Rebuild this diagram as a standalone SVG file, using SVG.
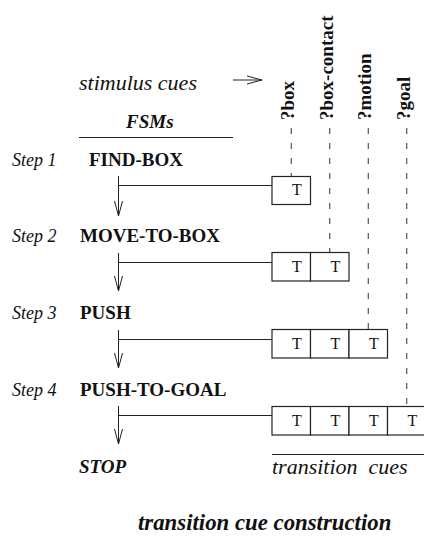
<svg xmlns="http://www.w3.org/2000/svg" width="424" height="542" viewBox="0 0 424 542">
<defs>
<style>
text{font-family:'Liberation Serif','Times New Roman',Times,serif}
.it{font-style:italic;fill:#111}
.bd{font-weight:bold;fill:#111}
.bi{font-weight:bold;font-style:italic;fill:#111}
.t{font-size:16px;fill:#111;text-anchor:middle}
.cell{fill:#fff;stroke:#222;stroke-width:1.2}
.ln{stroke:#222;stroke-width:1;fill:none}
.dash{stroke:#333;stroke-width:1;fill:none;stroke-dasharray:6 9}
</style>
<marker id="ah" markerUnits="userSpaceOnUse" viewBox="-16 -6 18 12" markerWidth="18" markerHeight="12" refX="0" refY="0" orient="auto">
<path d="M-15,-4 L0,0 L-15,4" fill="none" stroke="#222" stroke-width="1"/>
</marker>
</defs>
<rect width="424" height="542" fill="#fff"/>

<g id="header">
<text class="it" x="79" y="90" font-size="22">stimulus cues</text>
<text class="bi" x="126" y="128" font-size="19">FSMs</text>
<line class="ln" x1="79" y1="137.5" x2="233" y2="137.5"/>
</g>

<g id="cue-labels">
<text class="bd" font-size="19" transform="translate(294,120) rotate(-90)">?box</text>
<text class="bd" font-size="19" transform="translate(332.5,120) rotate(-90)">?box-contact</text>
<text class="bd" font-size="19" transform="translate(371,120) rotate(-90)">?motion</text>
<text class="bd" font-size="19" transform="translate(409.5,120) rotate(-90)">?goal</text>
</g>

<g id="step1">
<text class="it" x="12" y="166" font-size="18">Step 1</text>
<text class="bd" x="89" y="166" font-size="19">FIND-BOX</text>
<rect class="cell" x="272" y="176.5" width="38.5" height="28"/>
<text class="t" x="297" y="195">T</text>
</g>

<g id="step2">
<text class="it" x="12" y="242" font-size="18">Step 2</text>
<text class="bd" x="80" y="242" font-size="19">MOVE-TO-BOX</text>
<rect class="cell" x="272" y="252.5" width="38.5" height="28.5"/>
<rect class="cell" x="310.5" y="252.5" width="38.5" height="28.5"/>
<text class="t" x="297" y="271.5">T</text>
<text class="t" x="335.5" y="271.5">T</text>
</g>

<g id="step3">
<text class="it" x="12" y="319" font-size="18">Step 3</text>
<text class="bd" x="80" y="319" font-size="19">PUSH</text>
<rect class="cell" x="272" y="329.5" width="38.5" height="28.5"/>
<rect class="cell" x="310.5" y="329.5" width="38.5" height="28.5"/>
<rect class="cell" x="349" y="329.5" width="38.5" height="28.5"/>
<text class="t" x="297" y="348.5">T</text>
<text class="t" x="335.5" y="348.5">T</text>
<text class="t" x="374" y="348.5">T</text>
</g>

<g id="step4">
<text class="it" x="12" y="396" font-size="18">Step 4</text>
<text class="bd" x="80" y="396" font-size="19">PUSH-TO-GOAL</text>
<rect class="cell" x="272" y="406.5" width="38.5" height="28.5"/>
<rect class="cell" x="310.5" y="406.5" width="38.5" height="28.5"/>
<rect class="cell" x="349" y="406.5" width="38.5" height="28.5"/>
<rect class="cell" x="387.5" y="406.5" width="38.5" height="28.5"/>
<text class="t" x="297" y="425.5">T</text>
<text class="t" x="335.5" y="425.5">T</text>
<text class="t" x="374" y="425.5">T</text>
<text class="t" x="412.5" y="425.5">T</text>
</g>

<g id="stop">
<text class="bi" x="79" y="473" font-size="19">STOP</text>
</g>

<g id="transition-cues">
<line class="ln" x1="272" y1="454.5" x2="424" y2="454.5"/>
<text class="it" x="272" y="474" font-size="22" xml:space="preserve">transition  cues</text>
</g>

<g id="title">
<text class="bi" x="138" y="530" font-size="22.8">transition cue construction</text>
</g>

<g id="connectors">
<line class="ln" x1="233" y1="80" x2="262" y2="80" marker-end="url(#ah)"/>
<line class="dash" x1="291.25" y1="128" x2="291.25" y2="176.5"/>
<line class="dash" x1="329.75" y1="128" x2="329.75" y2="252.5"/>
<line class="dash" x1="368.25" y1="128" x2="368.25" y2="329.5"/>
<line class="dash" x1="406.75" y1="128" x2="406.75" y2="406.5"/>
<line class="ln" x1="118.5" y1="185.5" x2="272" y2="185.5"/>
<line class="ln" x1="118.5" y1="176" x2="118.5" y2="216" marker-end="url(#ah)"/>
<line class="ln" x1="118.5" y1="262.5" x2="272" y2="262.5"/>
<line class="ln" x1="118.5" y1="253" x2="118.5" y2="291" marker-end="url(#ah)"/>
<line class="ln" x1="118.5" y1="339.5" x2="272" y2="339.5"/>
<line class="ln" x1="118.5" y1="330" x2="118.5" y2="368" marker-end="url(#ah)"/>
<line class="ln" x1="118.5" y1="415.5" x2="272" y2="415.5"/>
<line class="ln" x1="118.5" y1="406" x2="118.5" y2="444" marker-end="url(#ah)"/>
</g>
</svg>
